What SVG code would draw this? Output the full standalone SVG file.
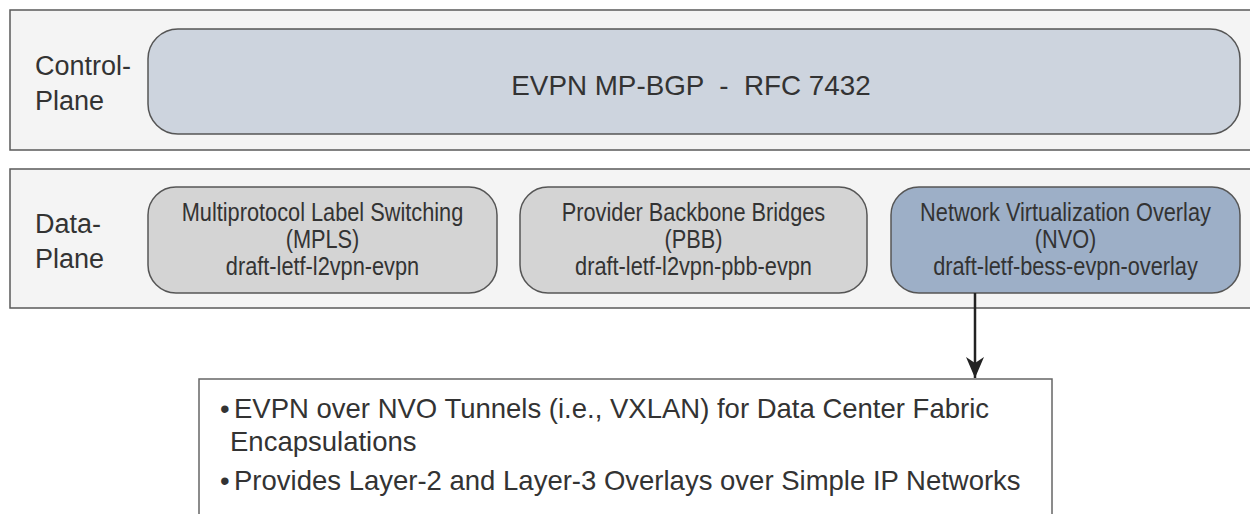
<svg xmlns="http://www.w3.org/2000/svg" width="1250" height="514" viewBox="0 0 1250 514">
  <defs>
    <style>
      .panel { fill: #f4f4f4; stroke: #5a5a5a; stroke-width: 1.5; }
      .label { font-family: "Liberation Sans", Arial, sans-serif; font-size: 27px; fill: #333; }
      .title { font-family: "Liberation Sans", Arial, sans-serif; font-size: 27.8px; fill: #333; text-anchor: middle; }
      .ctrl { fill: #cdd4de; stroke: #555; stroke-width: 1.5; }
      .grey { fill: #d4d4d4; stroke: #555; stroke-width: 1.5; }
      .nvo { fill: #9dafc7; stroke: #555; stroke-width: 1.5; }
      .boxtxt { font-family: "Liberation Sans", Arial, sans-serif; font-size: 25px; fill: #333; text-anchor: middle; }
      .note { fill: #fff; stroke: #666; stroke-width: 1.5; }
      .notetxt { font-family: "Liberation Sans", Arial, sans-serif; font-size: 27.5px; fill: #333; }
      .conn { stroke: #222; stroke-width: 2.5; fill: none; }
    </style>
    <marker id="arrow" markerUnits="userSpaceOnUse" markerWidth="24" markerHeight="20" refX="22" refY="10" orient="auto" viewBox="0 0 24 20">
      <path d="M1,1 L22,10 L1,19 L7,10 Z" fill="#222"/>
    </marker>
  </defs>

  <!-- control plane band -->
  <g id="control-plane">
    <rect class="panel" x="10" y="10" width="1260" height="140"/>
    <text class="label" x="35" y="75">Control-</text>
    <text class="label" x="35" y="110">Plane</text>
  </g>
  <g id="evpn-mp-bgp">
    <rect class="ctrl" x="148" y="29" width="1092" height="105" rx="30" ry="30"/>
    <text class="title" x="691" y="95" xml:space="preserve">EVPN MP-BGP  -  RFC 7432</text>
  </g>

  <!-- data plane band -->
  <g id="data-plane">
    <rect class="panel" x="10" y="169" width="1260" height="139"/>
    <text class="label" x="35" y="233">Data-</text>
    <text class="label" x="35" y="268">Plane</text>
  </g>

  <g id="mpls">
    <rect class="grey" x="148" y="187" width="349" height="106" rx="28" ry="28"/>
    <g transform="translate(322.5,0) scale(0.87,1)">
      <text class="boxtxt" x="0" y="221">Multiprotocol Label Switching</text>
      <text class="boxtxt" x="0" y="248">(MPLS)</text>
      <text class="boxtxt" x="0" y="275">draft-letf-l2vpn-evpn</text>
    </g>
  </g>

  <g id="pbb">
    <rect class="grey" x="520" y="187" width="347" height="106" rx="28" ry="28"/>
    <g transform="translate(693.5,0) scale(0.87,1)">
      <text class="boxtxt" x="0" y="221">Provider Backbone Bridges</text>
      <text class="boxtxt" x="0" y="248">(PBB)</text>
      <text class="boxtxt" x="0" y="275">draft-letf-l2vpn-pbb-evpn</text>
    </g>
  </g>

  <g id="nvo">
    <rect class="nvo" x="891" y="187" width="349" height="106" rx="28" ry="28"/>
    <g transform="translate(1065.5,0) scale(0.87,1)">
      <text class="boxtxt" x="0" y="221">Network Virtualization Overlay</text>
      <text class="boxtxt" x="0" y="248">(NVO)</text>
      <text class="boxtxt" x="0" y="275">draft-letf-bess-evpn-overlay</text>
    </g>
  </g>

  <!-- NVO details -->
  <g id="nvo-details">
    <rect class="note" x="199" y="379" width="853" height="200"/>
    <text class="notetxt" x="220" y="418">•</text>
    <text class="notetxt" x="234" y="418">EVPN over NVO Tunnels (i.e., VXLAN) for Data Center Fabric</text>
    <text class="notetxt" x="230" y="451">Encapsulations</text>
    <text class="notetxt" x="220" y="490">•</text>
    <text class="notetxt" x="234" y="490">Provides Layer-2 and Layer-3 Overlays over Simple IP Networks</text>
  </g>

  <g id="connectors">
    <line class="conn" x1="975" y1="293" x2="975" y2="378" marker-end="url(#arrow)"/>
  </g>
</svg>
